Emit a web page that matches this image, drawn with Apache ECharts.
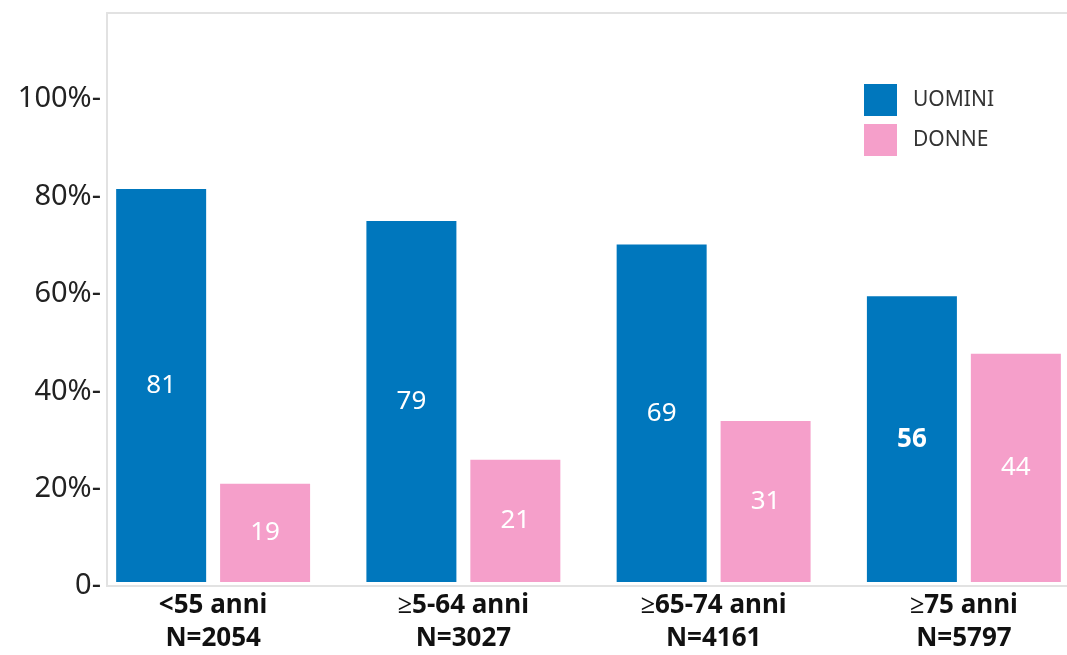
<!DOCTYPE html>
<html>
<head>
<meta charset="utf-8">
<script src="https://cdn.jsdelivr.net/npm/echarts@6/dist/echarts.min.js"></script>
<style>html,body{margin:0;padding:0;background:#fff;overflow:hidden;}#c{width:1120px;height:655px;}</style>
</head>
<body>
<div id="c"></div>
<script>
const categories = ['<55 anni\nN=2054', '≥5-64 anni\nN=3027', '≥65-74 anni\nN=4161', '≥75 anni\nN=5797'];
const seriesNames = ['UOMINI', 'DONNE'];
// bar heights as drawn (percent)
const uominiHeights = [81.3, 74.7, 69.8, 59.1];
const donneHeights = [20.3, 25.3, 33.3, 47.2];
// printed labels
const uominiLabels = ['81', '79', '69', '56'];
const donneLabels = ['19', '21', '31', '44'];
const yTicks = [0, 20, 40, 60, 80, 100];
const yTickLabels = ['0-', '20%-', '40%-', '60%-', '80%-', '100%-'];

const FONT = 'Noto Sans';
const YMAX = 117.7;
const LINE = { show: true, lineStyle: { color: '#e2e2e2', width: 2 } };

function mkData(vals, labels, boldIdx) {
  return vals.map((v, i) => {
    const item = { value: v, labelText: labels[i] };
    if (i === boldIdx) item.label = { fontWeight: 'bold' };
    return item;
  });
}

const chart = echarts.init(document.getElementById('c'));
chart.setOption({
  animation: false,
  textStyle: { fontFamily: FONT },
  grid: [
    { left: 88, width: 1001, top: 13, bottom: 69 },
    { left: 107, right: 0, top: 13, bottom: 69 }
  ],
  legend: {
    orient: 'vertical',
    left: 864,
    top: 84,
    padding: 0,
    itemWidth: 33,
    itemHeight: 32,
    itemGap: 8,
    icon: 'rect',
    data: seriesNames,
    textStyle: { fontFamily: FONT, fontSize: 21, color: '#333', padding: [0, 0, 4, 11] }
  },
  xAxis: [
    {
      type: 'category', gridIndex: 0, data: categories,
      axisLine: { show: false }, axisTick: { show: false },
      axisLabel: { fontFamily: FONT, fontSize: 26, fontWeight: 'bold', color: '#111', lineHeight: 33, margin: 7, interval: 0 }
    },
    { type: 'value', gridIndex: 1, position: 'bottom', axisLine: LINE, axisTick: { show: false }, axisLabel: { show: false }, splitLine: { show: false } },
    { type: 'value', gridIndex: 1, position: 'top', axisLine: LINE, axisTick: { show: false }, axisLabel: { show: false }, splitLine: { show: false } }
  ],
  yAxis: [
    { type: 'value', gridIndex: 0, min: 0, max: YMAX, show: false, splitLine: { show: false } },
    {
      type: 'value', gridIndex: 1, min: 0, max: YMAX, interval: 20,
      axisLine: LINE, axisTick: { show: false }, splitLine: { show: false },
      axisLabel: {
        fontFamily: FONT, fontSize: 29, color: '#222', margin: 6,
        formatter: function (v) { const i = yTicks.indexOf(v); return i >= 0 ? yTickLabels[i] : ''; }
      }
    }
  ],
  series: [
    {
      name: seriesNames[0], type: 'bar', xAxisIndex: 0, yAxisIndex: 0,
      barWidth: 90, barGap: '15.5%',
      itemStyle: { color: '#0077bd' },
      label: { show: true, position: 'inside', color: '#fff', fontSize: 26, fontFamily: FONT,
        formatter: p => p.data.labelText },
      data: mkData(uominiHeights, uominiLabels, 3)
    },
    {
      name: seriesNames[1], type: 'bar', xAxisIndex: 0, yAxisIndex: 0,
      barWidth: 90, barGap: '15.5%',
      itemStyle: { color: '#f59fca' },
      label: { show: true, position: 'inside', color: '#fff', fontSize: 26, fontFamily: FONT,
        formatter: p => p.data.labelText },
      data: mkData(donneHeights, donneLabels, -1)
    }
  ]
});
</script>
</body>
</html>
